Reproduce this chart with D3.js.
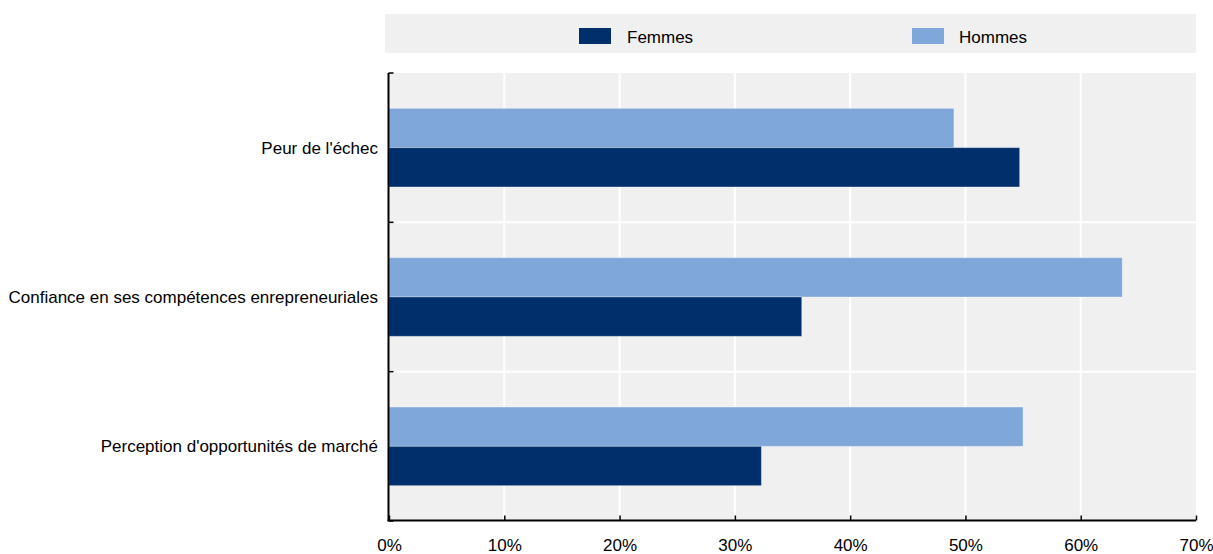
<!DOCTYPE html>
<html>
<head>
<meta charset="utf-8">
<script src="https://cdn.jsdelivr.net/npm/d3@7"></script>
<style>
  html, body { margin: 0; padding: 0; background: #fff; }
  svg { display: block; font-family: "Liberation Sans", Arial, sans-serif; }
</style>
</head>
<body>
<svg id="chart" width="1213" height="554"></svg>
<script>
const categories = ["Peur de l'échec", "Confiance en ses compétences enrepreneuriales", "Perception d'opportunités de marché"];
const seriesNames = ["Hommes", "Femmes"];
const hommes = [49.0, 63.6, 55.0];
const femmes = [54.7, 35.8, 32.3];
const xTicks = [0, 10, 20, 30, 40, 50, 60, 70];
const colors = { Femmes: "#002f6c", Hommes: "#7fa7d9" };

const svg = d3.select("#chart");
const pLeft = 389, pRight = 1196, pTop = 73, pBottom = 521;

const x = d3.scaleLinear().domain([0, 70]).range([pLeft, pRight]);
const y = d3.scaleBand().domain(categories).range([pTop, pBottom]).padding(0);
const sub = d3.scaleBand().domain(seriesNames).range([0, y.bandwidth()]).paddingInner(0).paddingOuter(0.9);

// Legend
const lg = svg.append("g");
lg.append("rect").attr("x", 385).attr("y", 14).attr("width", pRight - 385).attr("height", 39).attr("fill", "#f0f0f0");
const legendItems = [
  { name: "Femmes", sx: 579, tx: 627 },
  { name: "Hommes", sx: 912, tx: 959 }
];
legendItems.forEach(d => {
  lg.append("rect").attr("x", d.sx).attr("y", 28).attr("width", 32).attr("height", 16).attr("fill", colors[d.name]);
  lg.append("text").attr("x", d.tx).attr("y", 42.5).attr("font-size", 17).attr("fill", "#000").text(d.name);
});

// Plot background
svg.append("rect").attr("x", pLeft).attr("y", pTop).attr("width", pRight - pLeft).attr("height", pBottom - pTop).attr("fill", "#f0f0f0");

// Grid lines
svg.append("g").selectAll("line").data(xTicks.filter(t => t > 0 && t < 70)).join("line")
  .attr("x1", d => x(d)).attr("x2", d => x(d)).attr("y1", pTop).attr("y2", pBottom)
  .attr("stroke", "#fff").attr("stroke-width", 2);
svg.append("g").selectAll("line").data(categories.slice(1)).join("line")
  .attr("x1", pLeft).attr("x2", pRight).attr("y1", d => y(d)).attr("y2", d => y(d))
  .attr("stroke", "#fff").attr("stroke-width", 2);

// Bars
const rows = categories.map((c, i) => ({ cat: c, Hommes: hommes[i], Femmes: femmes[i] }));
const g = svg.append("g");
rows.forEach(r => {
  seriesNames.forEach(s => {
    g.append("rect")
      .attr("x", x(0))
      .attr("y", y(r.cat) + sub(s))
      .attr("width", x(r[s]) - x(0))
      .attr("height", sub.bandwidth())
      .attr("fill", colors[s])
      .attr("stroke", "rgba(255,255,255,0.3)")
      .attr("stroke-width", 1);
  });
});

// Y axis
const yBoundaries = d3.scaleLinear().domain([0, 3]).range([pTop, pBottom]);
const yAxisG = svg.append("g").attr("transform", `translate(${pLeft - 0.5},0)`);
yAxisG.append("line").attr("x1", 0).attr("x2", 0).attr("y1", pTop).attr("y2", pBottom).attr("stroke", "#000").attr("stroke-width", 2);
yAxisG.selectAll("line.tk").data([0, 1, 2, 3]).join("line").attr("class", "tk")
  .attr("x1", 0).attr("x2", 5).attr("y1", d => yBoundaries(d)).attr("y2", d => yBoundaries(d))
  .attr("stroke", "#000").attr("stroke-width", 1.5);
svg.append("g").selectAll("text").data(categories).join("text")
  .attr("x", 378).attr("y", d => y(d) + y.bandwidth() / 2)
  .attr("dy", "0.36em").attr("text-anchor", "end").attr("font-size", 17).attr("fill", "#000")
  .text(d => d);

// X axis
const xAxis = d3.axisBottom(x).tickValues(xTicks).tickFormat(d => d + "%").tickSizeInner(-5).tickSizeOuter(0);
const xg = svg.append("g").attr("transform", `translate(0,${pBottom - 0.5})`).call(xAxis);
xg.select(".domain").attr("stroke", "#000").attr("stroke-width", 2).attr("d", `M${pLeft - 1.5},0H${pRight}`);
xg.selectAll(".tick line").attr("stroke", "#000").attr("stroke-width", 1.5);
xg.selectAll(".tick text").attr("y", 30).attr("dy", null).attr("font-size", 17).attr("fill", "#000").attr("font-family", "Liberation Sans, Arial, sans-serif");
</script>
</body>
</html>
